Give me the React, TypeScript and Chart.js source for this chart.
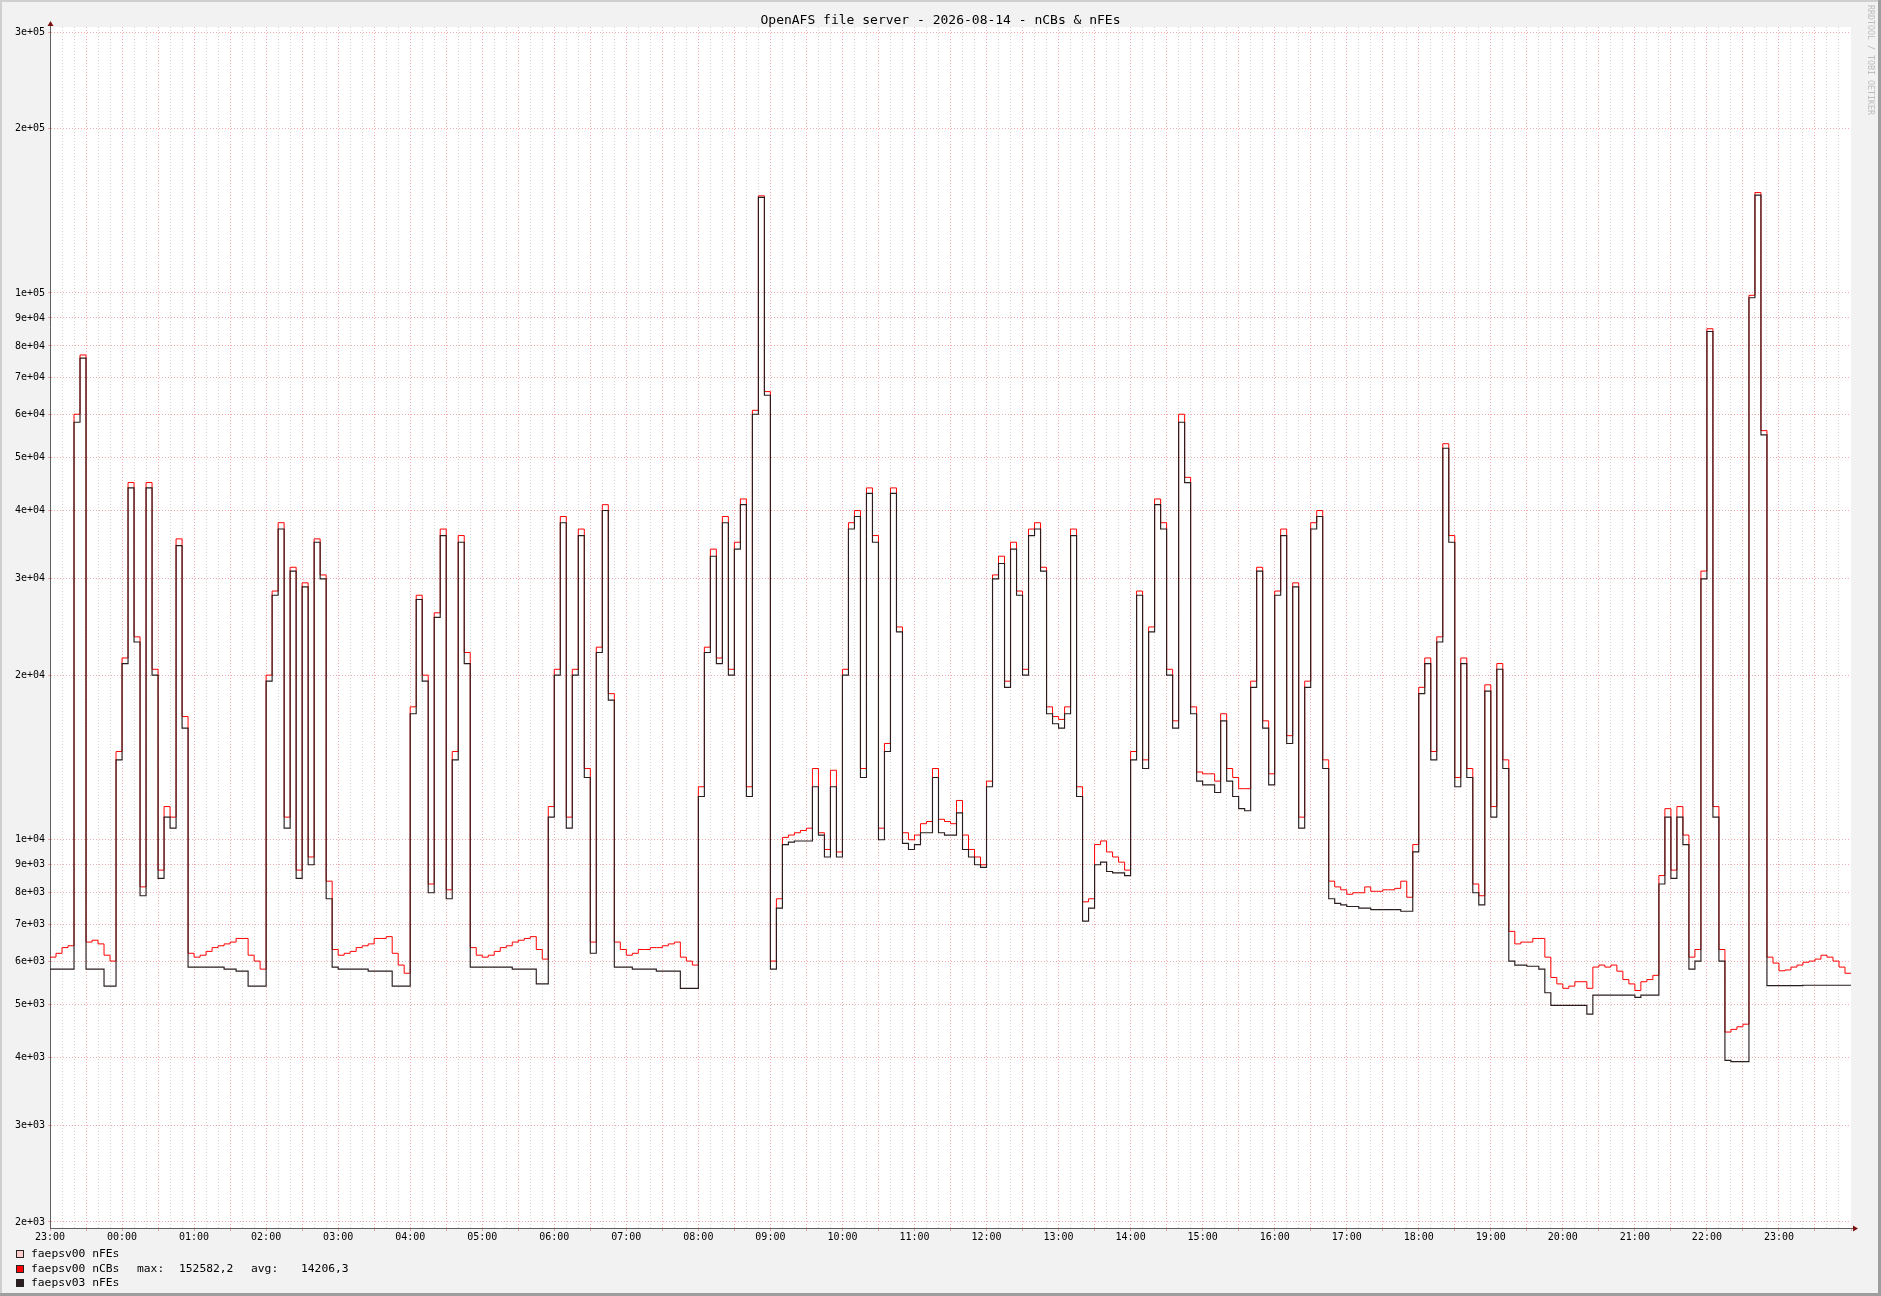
import React, { useEffect, useRef } from 'react';
import { Chart, registerables } from 'chart.js';

Chart.register(...registerables);

const TITLE = 'OpenAFS file server - 2026-08-14 - nCBs & nFEs';
const WATERMARK = 'RRDTOOL / TOBI OETIKER';
const START_HOUR = 23;
const STEP_MINUTES = 5;
const END_MINUTES = 1500;

const Y_TICKS = [
  2000, 3000, 4000, 5000, 6000, 7000, 8000, 9000,
  10000, 20000, 30000, 40000, 50000, 60000, 70000, 80000, 90000,
  100000, 200000, 300000,
];

// faepsv03 nFEs (dark line), one value per 5 minutes from 23:00
const nfesV03 = [
  5800, 5800, 5800, 5800, 58000, 76000, 5800, 5800, 5800, 5400, 5400, 14000,
  21000, 44000, 23000, 7900, 44000, 20000, 8500, 11000, 10500, 34500, 16000, 5850,
  5850, 5850, 5850, 5850, 5850, 5800, 5800, 5750, 5750, 5400, 5400, 5400,
  19500, 28000, 37000, 10500, 31000, 8500, 29000, 9000, 35000, 30000, 7800, 5850,
  5800, 5800, 5800, 5800, 5800, 5750, 5750, 5750, 5750, 5400, 5400, 5400,
  17000, 27500, 19500, 8000, 25500, 36000, 7800, 14000, 35000, 21000, 5850, 5850,
  5850, 5850, 5850, 5850, 5850, 5800, 5800, 5800, 5800, 5450, 5450, 11000,
  20000, 38000, 10500, 20000, 36000, 13000, 6200, 22000, 40000, 18000, 5850, 5850,
  5850, 5800, 5800, 5800, 5800, 5750, 5750, 5750, 5750, 5350, 5350, 5350,
  12000, 22000, 33000, 21000, 38000, 20000, 34000, 41000, 12000, 60000, 149500, 65000,
  5800, 7500, 9800, 9900, 9950, 9950, 9950, 12500, 10200, 9300, 12500, 9300,
  20000, 37000, 39000, 13000, 43000, 35000, 10000, 14500, 43000, 24000, 9850, 9600,
  9800, 10300, 10300, 13000, 10300, 10200, 10200, 11200, 9600, 9300, 9000, 8900,
  12500, 30000, 32000, 19000, 34000, 28000, 20000, 36000, 37000, 31000, 17000, 16300,
  16000, 17000, 36000, 12000, 7100, 7500, 9000, 9100, 8750, 8700, 8700, 8600,
  14000, 28000, 13500, 24000, 41000, 37000, 20000, 16000, 58000, 45000, 17000, 12800,
  12600, 12600, 12200, 16500, 12800, 12000, 11400, 11300, 19000, 31000, 16000, 12600,
  28000, 36000, 15000, 29000, 10500, 19000, 37000, 39000, 13500, 7800, 7650, 7600,
  7550, 7550, 7500, 7500, 7450, 7450, 7450, 7450, 7450, 7400, 7400, 9500,
  18500, 21000, 14000, 23000, 52000, 35000, 12500, 21000, 13000, 8000, 7600, 18700,
  11000, 20500, 13500, 6000, 5900, 5900, 5870, 5870, 5800, 5250, 4980, 4980,
  4980, 4980, 4980, 4980, 4800, 5200, 5200, 5200, 5200, 5200, 5200, 5200,
  5150, 5200, 5200, 5200, 8300, 11000, 8500, 11000, 9800, 5800, 6000, 30000,
  85000, 11000, 6000, 3950, 3930, 3930, 3930, 98000, 151000, 55000, 5410, 5410,
  5410, 5410, 5410, 5410, 5420, 5420, 5420, 5420, 5420, 5420, 5420, 5420,
];

// faepsv00 nCBs (red line)
const ncbsV00 = [
  6100, 6200, 6350, 6400, 60000, 77000, 6500, 6550, 6450, 6150, 6000, 14500,
  21500, 45000, 23500, 8200, 45000, 20500, 8800, 11500, 11000, 35500, 16800, 6200,
  6100, 6150, 6250, 6350, 6400, 6450, 6500, 6600, 6600, 6150, 6000, 5800,
  20000, 28500, 38000, 11000, 31500, 8800, 29500, 9300, 35500, 30500, 8400, 6300,
  6150, 6200, 6250, 6350, 6400, 6450, 6600, 6600, 6650, 6200, 5900, 5700,
  17500, 28000, 20000, 8300, 26000, 37000, 8100, 14500, 36000, 22000, 6350, 6150,
  6100, 6150, 6250, 6350, 6400, 6500, 6550, 6600, 6650, 6300, 6050, 11500,
  20500, 39000, 11000, 20500, 37000, 13500, 6500, 22500, 41000, 18500, 6500, 6300,
  6150, 6200, 6300, 6300, 6350, 6350, 6400, 6450, 6500, 6100, 6000, 5900,
  12500, 22500, 34000, 21500, 39000, 20500, 35000, 42000, 12500, 61000, 150500, 66000,
  6000, 7800, 10100, 10200, 10300, 10400, 10500, 13500, 10300, 9600, 13400, 9500,
  20500, 38000, 40000, 13500, 44000, 36000, 10500, 15000, 44000, 24500, 10300, 10000,
  10200, 10700, 10800, 13500, 10900, 10800, 10700, 11800, 10200, 9600, 9300, 9000,
  12800, 30500, 33000, 19500, 35000, 28500, 20500, 37000, 38000, 31500, 17500, 16800,
  16600, 17500, 37000, 12500, 7700, 7800, 9800, 9950, 9500, 9300, 9100, 8800,
  14500, 28500, 14000, 24500, 42000, 38000, 20500, 16500, 60000, 46000, 17500, 13300,
  13200, 13200, 12800, 17000, 13500, 13000, 12400, 12400, 19500, 31500, 16500, 13200,
  28500, 37000, 15500, 29500, 11000, 19500, 38000, 40000, 14000, 8400, 8200, 8100,
  7950, 8000, 8000, 8200, 8050, 8050, 8100, 8100, 8150, 8400, 7850, 9800,
  19000, 21500, 14500, 23500, 53000, 36000, 13000, 21500, 13500, 8300, 7900, 19200,
  11500, 21000, 14000, 6800, 6450, 6500, 6500, 6600, 6600, 6100, 5600, 5450,
  5350, 5400, 5500, 5500, 5350, 5850, 5900, 5850, 5900, 5750, 5550, 5450,
  5300, 5500, 5550, 5650, 8600, 11400, 8800, 11500, 10200, 6100, 6300, 31000,
  86000, 11500, 6300, 4450, 4500, 4550, 4600, 99000, 152582, 56000, 6100, 5950,
  5760, 5780, 5850, 5900, 5970, 6000, 6050, 6150, 6100, 6000, 5850, 5700,
];

// faepsv00 nFEs: no samples drawn in the reference
const nfesV00: number[] = [];

const LEGEND_LABELS = ['faepsv00 nFEs', 'faepsv00 nCBs', 'faepsv03 nFEs'];
const LEGEND_COLORS = ['#ffcccc', '#ff0000', '#2b1d1d'];
const STAT_LABELS = ['max:', 'avg:'];
const STAT_VALUES = ['152582,2', '14206,3'];

const MONO = '"DejaVu Sans Mono", monospace';
const MAJOR_GRID = 'rgba(225, 90, 90, 0.5)';
const MINOR_GRID = 'rgba(160, 160, 160, 0.45)';

function toPoints(values: number[]) {
  const pts = values.map((v, i) => ({ x: i * STEP_MINUTES, y: v }));
  if (values.length) pts.push({ x: END_MINUTES, y: values[values.length - 1] });
  return pts;
}

function fmtExp(v: number) {
  const e = Math.floor(Math.log10(v) + 1e-9);
  const m = Math.round(v / Math.pow(10, e));
  return `${m}e+${String(e).padStart(2, '0')}`;
}

function fmtTime(m: number) {
  const h = (START_HOUR + Math.round(m) / 60) % 24;
  return `${String(h).padStart(2, '0')}:00`;
}

const framePlugin = {
  id: 'rrdFrame',
  beforeDraw(chart: any) {
    const { ctx, chartArea } = chart;
    const { left, top, right, bottom } = chartArea;
    ctx.save();
    ctx.fillStyle = '#f2f2f2';
    ctx.fillRect(0, 0, chart.width, chart.height);
    ctx.fillStyle = '#ffffff';
    ctx.fillRect(left, top, right - left, bottom - top);
    ctx.restore();
  },
  afterDraw(chart: any) {
    const { ctx, chartArea } = chart;
    const { left, top, right, bottom } = chartArea;
    ctx.save();
    ctx.strokeStyle = '#606060';
    ctx.lineWidth = 1;
    ctx.beginPath();
    ctx.moveTo(left + 0.5, top);
    ctx.lineTo(left + 0.5, top - 2);
    ctx.moveTo(right, bottom + 0.5);
    ctx.lineTo(right + 3, bottom + 0.5);
    ctx.stroke();
    ctx.fillStyle = '#7a1212';
    ctx.beginPath();
    ctx.moveTo(left + 0.5, top - 6);
    ctx.lineTo(left - 2.5, top - 1);
    ctx.lineTo(left + 3.5, top - 1);
    ctx.closePath();
    ctx.fill();
    ctx.beginPath();
    ctx.moveTo(right + 7, bottom + 0.5);
    ctx.lineTo(right + 2, bottom - 2.5);
    ctx.lineTo(right + 2, bottom + 3.5);
    ctx.closePath();
    ctx.fill();
    ctx.fillStyle = '#cfcfcf';
    ctx.fillRect(0, 0, chart.width, 2);
    ctx.fillRect(0, 0, 2, chart.height);
    ctx.fillStyle = '#9e9e9e';
    ctx.fillRect(0, chart.height - 3, chart.width, 3);
    ctx.fillRect(chart.width - 3, 0, 3, chart.height);
    ctx.restore();
  },
};

export default function App() {
  const ref = useRef<HTMLCanvasElement | null>(null);

  useEffect(() => {
    if (!ref.current) return;
    const chart = new Chart(ref.current, {
      type: 'line',
      data: {
        datasets: [
          {
            label: LEGEND_LABELS[0],
            data: toPoints(nfesV00),
            borderColor: LEGEND_COLORS[0],
            borderWidth: 1,
            pointRadius: 0,
            stepped: 'before',
            order: 2,
          },
          {
            label: LEGEND_LABELS[1],
            data: toPoints(ncbsV00),
            borderColor: LEGEND_COLORS[1],
            borderWidth: 1,
            pointRadius: 0,
            stepped: 'before',
            order: 1,
          },
          {
            label: LEGEND_LABELS[2],
            data: toPoints(nfesV03),
            borderColor: LEGEND_COLORS[2],
            borderWidth: 1.15,
            pointRadius: 0,
            stepped: 'before',
            order: 0,
          },
        ],
      },
      options: {
        responsive: false,
        animation: false,
        devicePixelRatio: 1,
        layout: { padding: { top: 27, right: 30, left: 0, bottom: 0 } },
        plugins: {
          legend: { display: false },
          title: { display: false },
          tooltip: { enabled: false },
        },
        scales: {
          x: {
            type: 'linear',
            min: 0,
            max: END_MINUTES,
            afterFit: (s: any) => {
              s.height = 68;
            },
            ticks: {
              stepSize: 10,
              maxTicksLimit: 400,
              autoSkip: false,
              minRotation: 0,
              maxRotation: 0,
              padding: 0,
              color: '#000',
              font: { family: MONO, size: 10 },
              callback: (v: any) => {
                const m = Math.round(Number(v));
                return m % 60 === 0 && m < END_MINUTES ? fmtTime(m) : '';
              },
            },
            grid: {
              lineWidth: 1,
              tickLength: 3,
              color: (c: any) => {
                const m = Math.round(c.tick ? c.tick.value : 0);
                if (m >= END_MINUTES) return 'rgba(0,0,0,0)';
                return m % 30 === 0 ? MAJOR_GRID : MINOR_GRID;
              },
              tickColor: (c: any) => {
                const m = Math.round(c.tick ? c.tick.value : 0);
                return m % 30 === 0 ? MAJOR_GRID : 'rgba(0,0,0,0)';
              },
            },
            border: { display: true, color: '#606060', width: 1, dash: [1, 2] },
          },
          y: {
            type: 'logarithmic',
            min: 1950,
            max: 306400,
            afterFit: (s: any) => {
              s.width = 50;
            },
            afterBuildTicks: (s: any) => {
              s.ticks = Y_TICKS.map((v) => ({ value: v }));
            },
            ticks: {
              autoSkip: false,
              padding: 3,
              color: '#000',
              font: { family: MONO, size: 10 },
              callback: (v: any) => fmtExp(Number(v)),
            },
            grid: {
              lineWidth: 1,
              tickLength: 2,
              color: MAJOR_GRID,
            },
            border: { display: true, color: '#606060', width: 1, dash: [1, 2] },
          },
        },
      } as any,
      plugins: [framePlugin],
    });
    return () => chart.destroy();
  }, []);

  const rowTops = [1248, 1263, 1277];

  return (
    <div
      style={{
        position: 'absolute',
        left: 0,
        top: 0,
        width: 1881,
        height: 1296,
        background: '#f2f2f2',
        fontFamily: MONO,
        overflow: 'hidden',
      }}
    >
      <canvas ref={ref} width={1881} height={1296} style={{ position: 'absolute', left: 0, top: 0 }} />
      <div
        style={{
          position: 'absolute',
          left: 0,
          top: 12,
          width: 1881,
          textAlign: 'center',
          fontSize: 13,
          lineHeight: '16px',
          color: '#000',
          whiteSpace: 'pre',
        }}
      >
        {TITLE}
      </div>
      <div
        style={{
          position: 'absolute',
          left: 1866,
          top: 5,
          writingMode: 'vertical-rl',
          fontSize: 8.3,
          lineHeight: '9px',
          color: '#bdbdbd',
          whiteSpace: 'pre',
        }}
      >
        {WATERMARK}
      </div>
      {LEGEND_LABELS.map((lab, i) => (
        <div key={lab} style={{ position: 'absolute', left: 0, top: rowTops[i], height: 14, width: 600 }}>
          <div
            style={{
              position: 'absolute',
              left: 16,
              top: 2,
              width: 6,
              height: 6,
              background: LEGEND_COLORS[i],
              border: '1px solid #222',
            }}
          />
          <div
            style={{
              position: 'absolute',
              left: 31,
              top: -1,
              fontSize: 11.3,
              lineHeight: '14px',
              color: '#000',
              whiteSpace: 'pre',
            }}
          >
            {lab}
          </div>
          {i === 1 &&
            [
              { x: 137, t: STAT_LABELS[0] },
              { x: 179, t: STAT_VALUES[0] },
              { x: 251, t: STAT_LABELS[1] },
              { x: 301, t: STAT_VALUES[1] },
            ].map((s) => (
              <div
                key={s.t}
                style={{
                  position: 'absolute',
                  left: s.x,
                  top: -1,
                  fontSize: 11.3,
                  lineHeight: '14px',
                  color: '#000',
                  whiteSpace: 'pre',
                }}
              >
                {s.t}
              </div>
            ))}
        </div>
      ))}
    </div>
  );
}
